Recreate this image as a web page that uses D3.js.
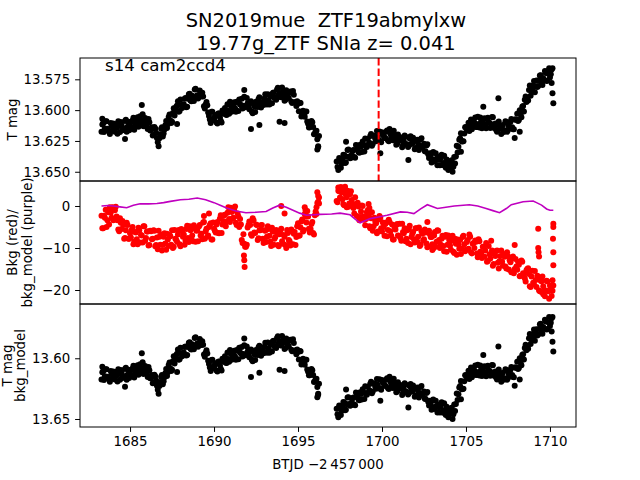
<!DOCTYPE html>
<html><head><meta charset="utf-8">
<script src="https://cdn.jsdelivr.net/npm/d3@7"></script>
<style>
html,body{margin:0;padding:0;background:#fff;}
svg text{font-family:"DejaVu Sans",sans-serif;fill:#000;white-space:pre;}
</style></head>
<body><svg id="c" width="640" height="480"></svg>
<script>
// ---------- DATA ----------
const titleLines = ["SN2019mue  ZTF19abmylxw", "19.77g_ZTF SNIa z= 0.041"];
const sectorLabel = "s14 cam2ccd4";
const xLabel = "BTJD \u22122\u2009457\u2009000";
const xTicks = [1685, 1690, 1695, 1700, 1705, 1710];
const yTicks1 = [13.575, 13.600, 13.625, 13.650];
const yTicks2 = [0, -10, -20];
const yTicks3 = [13.60, 13.65];
const discoveryTime = 1699.8;
const cadence = 0.1;
const seg1Start = 1683.3, seg1bStart = 1683.35;
const seg2Start = 1697.3, seg2bStart = 1697.35;

// T mag, orbit 1
const tmagSeg1 = [13.6175,13.6107,13.6149,13.6091,13.6162,13.6194,13.6126,13.6108,13.6175,13.6142,
13.6090,13.6177,13.6124,13.6152,13.6089,13.6176,13.6094,13.6131,13.6146,13.6061,
13.6126,13.6081,13.6135,13.6050,13.6085,13.6130,13.6064,13.6127,13.6071,13.6165,
13.6138,13.6202,13.6149,13.6226,13.6293,13.6195,13.6138,13.6190,13.6123,13.6145,
13.6055,13.6084,13.6094,13.5984,13.6003,13.5963,13.6013,13.5913,13.5983,13.5952,
13.5902,13.5972,13.5872,13.5922,13.5884,13.5926,13.5827,13.5879,13.5891,13.5860,
13.5859,13.5968,13.5955,13.5961,13.6048,13.6104,13.6013,13.6071,13.6040,13.6109,
13.6027,13.6086,13.6003,13.6029,13.6036,13.5952,13.6029,13.5965,13.6001,13.5937,
13.6013,13.5939,13.5914,13.5960,13.5986,13.5892,13.5969,13.5945,13.5992,13.5928,
13.6025,13.5968,13.5931,13.5974,13.5896,13.5979,13.5942,13.5905,13.5948,13.5871,
13.5954,13.5887,13.5860,13.5902,13.5915,13.5818,13.5861,13.5895,13.5849,13.5923,
13.5838,13.5892,13.5856,13.5930,13.5844,13.5936,13.5967,13.5949,13.5941,13.6052,
13.6004,13.6053,13.6012,13.6111,13.6139,13.6088,13.6137,13.6192,13.6168,13.6293];
const tmagSeg1b = [13.6116,13.6178,13.6090,13.6152,13.6173,13.6105,13.6167,13.6147,13.6114,13.6191,
13.6129,13.6096,13.6163,13.6151,13.6078,13.6135,13.6163,13.6099,13.6084,13.6159,
13.6104,13.6058,13.6113,13.6118,13.6033,13.6097,13.6091,13.6154,13.6098,13.6162,
13.6205,13.6136,13.6183,13.6260,13.6229,13.6152,13.6214,13.6157,13.6089,13.6115,
13.6035,13.6104,13.6024,13.6044,13.5973,13.5928,13.6008,13.5958,13.5968,13.5907,
13.5977,13.5907,13.5867,13.5928,13.5900,13.5832,13.5893,13.5905,13.5841,13.5890,
13.5889,13.5987,13.5933,13.6020,13.6076,13.6014,13.6082,13.6051,13.6100,13.6028,
13.6057,13.6100,13.6016,13.5983,13.6039,13.6006,13.5932,13.6013,13.5959,13.5985,
13.5931,13.6007,13.5952,13.5908,13.5964,13.5976,13.5902,13.5969,13.5945,13.6012,
13.5942,13.6015,13.5948,13.5910,13.5963,13.5936,13.5959,13.5872,13.5955,13.5918,
13.5881,13.5944,13.5856,13.5899,13.5832,13.5875,13.5893,13.5817,13.5871,13.5916,
13.5870,13.5904,13.5848,13.5942,13.5875,13.5937,13.5928,13.6010,13.5942,13.6043,
13.6034,13.6013,13.6092,13.6140,13.6099,13.6098,13.6195,13.6170,13.6236,13.6210];
// T mag, orbit 2
const tmagSeg2 = [13.6416,13.6485,13.6413,13.6432,13.6361,13.6429,13.6378,13.6320,13.6391,13.6363,
13.6324,13.6386,13.6287,13.6339,13.6280,13.6340,13.6280,13.6230,13.6300,13.6279,
13.6209,13.6289,13.6209,13.6234,13.6170,13.6245,13.6250,13.6179,13.6207,13.6226,
13.6165,13.6253,13.6192,13.6240,13.6168,13.6236,13.6274,13.6222,13.6220,13.6302,
13.6254,13.6216,13.6278,13.6289,13.6211,13.6273,13.6245,13.6308,13.6241,13.6324,
13.6237,13.6300,13.6273,13.6335,13.6277,13.6388,13.6380,13.6347,13.6403,13.6350,
13.6447,13.6403,13.6390,13.6446,13.6371,13.6467,13.6423,13.6459,13.6414,13.6500,
13.6380,13.6377,13.6343,13.6240,13.6187,13.6253,13.6190,13.6137,13.6163,13.6170,
13.6077,13.6124,13.6100,13.6137,13.6054,13.6141,13.6077,13.6114,13.6066,13.6148,
13.6061,13.6103,13.6115,13.6057,13.6144,13.6161,13.6109,13.6126,13.6193,13.6120,
13.6164,13.6098,13.6163,13.6137,13.6071,13.6155,13.6076,13.6078,13.6089,13.6000,
13.6058,13.5967,13.5915,13.5933,13.5922,13.5800,13.5845,13.5800,13.5855,13.5760,
13.5805,13.5720,13.5771,13.5742,13.5682,13.5763,13.5704,13.5735,13.5670];
const tmagSeg2b = [13.6461,13.6389,13.6468,13.6397,13.6365,13.6424,13.6324,13.6376,13.6387,13.6329,
13.6380,13.6282,13.6323,13.6345,13.6295,13.6255,13.6335,13.6295,13.6235,13.6264,
13.6194,13.6274,13.6207,13.6252,13.6218,13.6173,13.6260,13.6198,13.6227,13.6176,
13.6244,13.6153,13.6216,13.6244,13.6202,13.6280,13.6198,13.6246,13.6241,13.6283,
13.6205,13.6277,13.6299,13.6230,13.6272,13.6224,13.6317,13.6250,13.6273,13.6306,
13.6229,13.6292,13.6334,13.6286,13.6358,13.6349,13.6424,13.6340,13.6417,13.6394,
13.6380,13.6447,13.6363,13.6429,13.6454,13.6400,13.6486,13.6432,13.6407,13.6460,
13.6434,13.6290,13.6297,13.6229,13.6255,13.6252,13.6139,13.6155,13.6102,13.6139,
13.6156,13.6102,13.6059,13.6136,13.6113,13.6059,13.6146,13.6075,13.6117,13.6070,
13.6102,13.6144,13.6056,13.6141,13.6108,13.6175,13.6093,13.6150,13.6127,13.6177,
13.6091,13.6176,13.6130,13.6094,13.6138,13.6156,13.6077,13.6029,13.6080,13.6034,
13.5973,13.6011,13.5889,13.5918,13.5836,13.5883,13.5828,13.5763,13.5808,13.5813,
13.5758,13.5716,13.5797,13.5757,13.5698,13.5759,13.5660,13.5708,13.5660];
// isolated T mag points [time, mag]
const tmagExtra = [[1683.35,13.607],[1684.7,13.6235],[1685.7,13.5959],[1687.8,13.6113],[1691.8,13.5837],
[1692.2,13.6154],[1692.7,13.612],[1693.9,13.6094],[1694.2,13.6105],[1696.15,13.632],[1696.2,13.630],
[1697.86,13.6257],[1699.9,13.635],[1701.57,13.6405],[1704.7,13.6338],[1706.03,13.5973],[1706.93,13.5904],
[1707.9,13.6227],[1708.2,13.6175],[1710.15,13.5864],[1710.2,13.5945],[1710.1,13.578]];

// background flux, orbit 1
const bkgSeg1 = [-2.3,-5.3,-2.8,-5.0,-1.5,-0.3,-2.8,-3.4,-1.0,-2.5,
-5.6,-2.9,-5.5,-4.5,-7.6,-4.0,-7.8,-6.5,-5.7,-9.1,
-6.2,-7.9,-5.2,-8.7,-7.0,-4.8,-8.3,-6.1,-9.4,-5.9,
-7.9,-5.8,-9.6,-7.5,-5.9,-9.2,-10.6,-7.3,-8.9,-6.6,
-9.5,-7.2,-5.8,-9.7,-7.8,-8.5,-5.7,-9.6,-6.0,-6.8,
-8.3,-4.7,-8.6,-5.8,-7.0,-4.6,-8.5,-5.8,-4.9,-7.0,
-7.9,-3.8,-6.0,-7.3,-5.0,-4.1,-8.0,-5.4,-6.3,-3.8,
-6.5,-2.2,-4.4,-2.2,-4.8,-1.6,-3.1,-0.4,-3.0,-1.0,
-4.0,-1.8,-5.0,-4.4,-8.8,-9.0,-9.7,-5.1,-3.7,-6.7,
-2.9,-6.3,-4.4,-8.1,-5.8,-4.6,-7.8,-5.8,-8.6,-4.8,
-7.1,-9.5,-6.1,-7.8,-5.7,-9.3,-6.7,-5.4,-9.0,-7.3,
-10.0,-6.4,-8.4,-5.6,-9.1,-6.2,-7.4,-4.1,-7.0,-3.7,
-6.1,-1.9,-3.9,-2.5,-6.3,-4.3,-6.4,-2.2,-1.9,2.4];
const bkgSeg1b = [-5.3,-2.3,-0.9,-3.4,-4.4,-1.6,-0.4,-3.2,-0.2,-3.4,
-6.0,-4.0,-3.6,-7.8,-5.8,-4.5,-7.8,-7.5,-5.0,-8.5,
-6.3,-9.1,-5.8,-6.9,-8.7,-4.8,-7.6,-6.1,-9.3,-6.0,
-7.8,-5.9,-9.3,-10.3,-7.3,-6.8,-9.3,-6.5,-10.4,-8.0,
-6.9,-9.2,-10.0,-5.7,-8.1,-6.8,-9.1,-5.5,-7.3,-9.2,
-5.5,-7.6,-4.8,-8.0,-8.4,-5.3,-5.9,-8.4,-4.5,-6.6,
-3.9,-7.8,-5.4,-7.0,-4.5,-8.0,-3.9,-5.9,-4.4,-6.4,
-3.0,-6.4,-3.6,-2.1,-3.7,-0.3,-3.8,-1.4,-2.8,-0.1,
-4.5,-2.5,-3.1,-8.1,-6.7,-9.7,-9.2,-4.5,-4.5,-7.1,
-3.4,-6.4,-4.5,-7.7,-5.8,-4.5,-8.8,-5.9,-7.3,-5.5,
-8.5,-5.2,-9.2,-7.4,-6.3,-9.6,-5.9,-8.4,-6.9,-9.3,
-5.7,-8.1,-9.4,-6.0,-6.6,-9.3,-4.8,-7.1,-5.1,-3.2,
-5.7,-2.5,-1.2,-5.4,-5.5,-3.8,-6.8,-1.3,0.7,0.6];
// background flux, orbit 2
const bkgSeg2 = [1.2,4.4,2.0,3.2,0.4,3.9,2.1,-0.2,2.8,1.4,
-0.5,2.1,-2.4,-0.1,-2.6,0.1,-2.5,-4.6,-1.5,-2.2,
-5.3,-1.5,-4.8,-3.7,-6.5,-3.2,-2.8,-6.1,-5.0,-4.3,
-7.2,-3.3,-6.0,-4.4,-8.0,-5.6,-4.3,-7.1,-7.6,-4.2,
-6.5,-8.4,-5.8,-5.5,-9.1,-6.6,-7.9,-5.3,-8.5,-5.1,
-9.2,-6.6,-7.9,-6.3,-9.8,-5.9,-7.4,-9.1,-7.0,-9.7,
-5.8,-8.1,-9.2,-7.1,-10.8,-6.9,-9.2,-8.1,-10.4,-7.1,
-11.2,-9.0,-8.0,-10.2,-11.4,-7.4,-9.1,-10.4,-8.1,-6.8,
-11.0,-9.0,-10.0,-8.5,-12.2,-8.4,-11.3,-9.7,-12.1,-8.8,
-13.1,-11.5,-11.4,-14.2,-11.0,-10.7,-13.5,-13.1,-10.6,-14.2,
-12.1,-14.9,-11.9,-12.9,-15.8,-12.0,-15.0,-14.4,-13.3,-16.7,
-13.0,-16.0,-17.2,-15.3,-14.8,-19.1,-16.8,-18.3,-15.5,-19.3,
-16.9,-20.3,-17.9,-19.1,-21.5,-17.8,-20.3,-18.9,-21.4];
const bkgSeg2b = [0.9,3.5,4.5,1.6,0.2,2.7,3.6,0.6,3.5,0.4,
-1.8,0.5,0.8,-3.4,-1.3,0.0,-3.3,-3.1,-1.0,-4.8,
-2.9,-5.9,-2.8,-4.1,-6.1,-2.4,-5.3,-3.9,-7.1,-3.9,
-5.7,-3.8,-7.1,-8.0,-5.0,-4.5,-7.0,-4.2,-8.3,-6.2,
-5.3,-7.8,-8.8,-4.7,-7.4,-6.2,-8.7,-5.3,-7.3,-9.5,
-6.0,-8.2,-5.6,-8.9,-9.6,-6.7,-7.4,-10.1,-6.2,-8.5,
-5.9,-10.0,-7.8,-9.5,-7.3,-10.9,-7.0,-9.4,-8.3,-10.9,
-7.8,-11.6,-9.1,-8.1,-10.1,-7.1,-10.8,-8.6,-10.2,-7.3,
-11.3,-8.8,-8.2,-11.3,-7.9,-10.9,-12.4,-9.7,-10.6,-13.3,
-9.5,-12.5,-10.6,-13.8,-11.9,-10.6,-14.9,-11.9,-13.3,-11.4,
-14.4,-11.0,-15.1,-13.4,-12.5,-16.0,-12.6,-15.2,-14.0,-16.6,
-13.3,-16.3,-18.0,-15.0,-16.2,-19.3,-15.4,-18.7,-17.6,-16.6,
-20.1,-17.8,-16.8,-20.4,-20.1,-18.0,-22.1,-19.4,-20.2];
// isolated background points [time, value]
const bkgExtra = [[1683.95,-0.3],[1684.05,-0.8],[1689.4,-2.4],[1689.7,-1.8],[1691.8,-12.9],[1691.82,-14.5],
[1691.78,-11.8],[1694.0,0.0],[1694.2,-1.8],[1695.4,-0.3],[1695.45,-1.0],[1696.1,-0.3],[1696.15,3.3],
[1696.2,1.0],[1696.25,2.0],[1697.4,3.6],[1697.7,3.8],[1697.8,4.6],[1697.9,-0.3],[1699.2,0.5],
[1699.25,-0.5],[1702.7,-3.8],[1703.0,-10.5],[1706.5,-8.3],[1707.9,-9.3],[1709.3,-5.4],[1709.3,-10.0],
[1709.32,-11.0],[1709.35,-12.0],[1709.5,-20.5],[1709.6,-21.0],[1710.2,-4.2],[1710.2,-5.0],
[1710.18,-7.8],[1710.2,-11.0],[1710.2,-14.1],[1710.15,-17.7],[1710.2,-18.9]];

// background model [time, value]
const bkgModel = [[1683.3,0.0],[1683.7,0.1],[1684.0,0.0],[1684.4,-0.2],[1684.8,-0.4],[1685.2,0.2],[1685.6,0.55],
[1686.1,0.5],[1686.6,0.6],[1687.0,0.8],[1687.4,1.1],[1688.0,1.5],[1688.5,1.6],[1689.0,1.9],[1689.5,1.5],
[1690.0,0.8],[1690.4,0.1],[1690.75,-0.5],[1691.3,-1.2],[1691.9,-1.6],[1692.5,-1.5],[1693.1,-1.3],
[1693.5,-0.5],[1693.9,0.2],[1694.3,-0.3],[1694.7,-1.0],[1695.1,-1.7],[1695.5,-2.2],[1696.3,-2.0],
[1697.0,-1.9],[1697.5,-1.7],[1698.1,-2.1],[1698.4,-3.1],[1698.7,-4.0],[1699.3,-3.0],[1699.8,-2.6],
[1700.3,-2.2],[1701.1,-1.4],[1701.5,-1.5],[1701.9,-1.8],[1702.3,-0.7],[1702.7,0.3],[1703.3,-0.6],
[1703.8,-0.3],[1704.3,0.0],[1705.2,0.3],[1705.7,0.0],[1706.2,-0.6],[1706.6,-1.1],[1707.0,-1.6],
[1707.4,-0.6],[1707.7,0.3],[1708.4,1.0],[1709.0,1.2],[1709.2,0.8],[1709.5,0.2],[1709.8,-0.7],
[1710.0,-1.0],[1710.2,-1.0]];

// ---------- BUILD ----------
function seg(start, arr){ return arr.map((v,i)=>[start + i*cadence, v]); }
const tmagPts = seg(seg1Start, tmagSeg1).concat(seg(seg1bStart, tmagSeg1b), seg(seg2Start, tmagSeg2), seg(seg2bStart, tmagSeg2b), tmagExtra);
const bkgPts = seg(seg1Start, bkgSeg1).concat(seg(seg1bStart, bkgSeg1b), seg(seg2Start, bkgSeg2), seg(seg2bStart, bkgSeg2b), bkgExtra);

const svg = d3.select("#c");
const L = 80, R = 576;
const panels = [{top:58, bot:181}, {top:181, bot:304}, {top:304, bot:427}];
const x = d3.scaleLinear().domain([1682.02, 1711.55]).range([L, R]);
const y1 = d3.scaleLinear().domain([13.5577, 13.6575]).range([58, 181]);
const y2 = d3.scaleLinear().domain([-23.33, 5.95]).range([304, 181]);
const y3 = d3.scaleLinear().domain([13.5553, 13.6566]).range([304, 427]);
const FS = 13.33, TL = 4.9, TP = 4.9, R_DOT = 3.0;

const defs = svg.append("defs");
panels.forEach((p,i)=>{
  defs.append("clipPath").attr("id","clip"+i).append("rect")
    .attr("x",L).attr("y",p.top).attr("width",R-L).attr("height",p.bot-p.top);
});

function dots(g, pts, ys, color){
  g.selectAll(null).data(pts).enter().append("circle")
    .attr("cx", d=>x(d[0])).attr("cy", d=>ys(d[1])).attr("r", R_DOT).attr("fill", color);
}

// panel 1
const g1 = svg.append("g").attr("clip-path","url(#clip0)");
dots(g1, tmagPts, y1, "#000");
g1.append("line").attr("x1",x(discoveryTime)).attr("x2",x(discoveryTime))
  .attr("y1",58).attr("y2",181).attr("stroke","#ff0000").attr("stroke-width",2)
  .attr("stroke-dasharray","7.4,3.2");

// panel 2
const g2 = svg.append("g").attr("clip-path","url(#clip1)");
dots(g2, bkgPts, y2, "#ff0000");
g2.append("path").datum(bkgModel)
  .attr("d", d3.line().x(d=>x(d[0])).y(d=>y2(d[1])))
  .attr("fill","none").attr("stroke","#bf00bf").attr("stroke-width",1.6);

// panel 3
const g3 = svg.append("g").attr("clip-path","url(#clip2)");
dots(g3, tmagPts, y3, "#000");

// frames
panels.forEach(p=>{
  svg.append("rect").attr("x",L).attr("y",p.top).attr("width",R-L).attr("height",p.bot-p.top)
    .attr("fill","none").attr("stroke","#000").attr("stroke-width",1);
});

function styleAxis(g){
  g.selectAll(".domain").remove();
  g.selectAll(".tick line").attr("stroke","#000").attr("stroke-width",1);
  g.selectAll(".tick text").attr("font-size",FS).attr("font-family","DejaVu Sans").attr("fill","#000");
}
svg.append("g").attr("transform",`translate(${L},0)`)
  .call(d3.axisLeft(y1).tickValues(yTicks1).tickFormat(d3.format(".3f")).tickSize(TL).tickPadding(TP)).call(styleAxis);
svg.append("g").attr("transform",`translate(${L},0)`)
  .call(d3.axisLeft(y2).tickValues(yTicks2).tickFormat(d3.format("d")).tickSize(TL).tickPadding(TP)).call(styleAxis);
svg.append("g").attr("transform",`translate(${L},0)`)
  .call(d3.axisLeft(y3).tickValues(yTicks3).tickFormat(d3.format(".2f")).tickSize(TL).tickPadding(TP)).call(styleAxis);
svg.append("g").attr("transform",`translate(0,427)`)
  .call(d3.axisBottom(x).tickValues(xTicks).tickFormat(d3.format("d")).tickSize(TL).tickPadding(TP)).call(styleAxis);

// texts
const T = svg.append("g");
T.append("text").attr("x",326).attr("y",27).attr("text-anchor","middle").attr("font-size",19.44).text(titleLines[0]);
T.append("text").attr("x",326).attr("y",50).attr("text-anchor","middle").attr("font-size",19.44).text(titleLines[1]);
T.append("text").attr("x",105).attr("y",70.5).attr("font-size",16.67).text(sectorLabel);
T.append("text").attr("x",328).attr("y",469).attr("text-anchor","middle").attr("font-size",FS).text(xLabel);
function ylab(cx, cy, s){
  T.append("text").attr("transform",`translate(${cx},${cy}) rotate(-90)`)
    .attr("text-anchor","middle").attr("dominant-baseline","central").attr("font-size",FS).text(s);
}
ylab(12.5, 119.5, "T mag");
ylab(12.5, 242.5, "Bkg (red)/");
ylab(27.5, 242.5, "bkg_model (purple)");
ylab(7, 365.5, "T mag");
ylab(20, 365.5, "bkg_model");
</script></body></html>
